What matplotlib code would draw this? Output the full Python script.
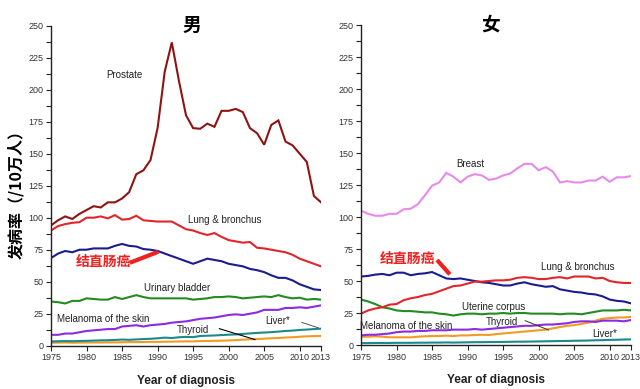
import matplotlib
matplotlib.use("Agg")
import matplotlib.pyplot as plt
from matplotlib.ticker import MultipleLocator

plt.rcParams["font.family"] = ["Liberation Sans", "Noto Sans CJK SC", "DejaVu Sans"]

years = list(range(1975, 2014))
xtick_years = [1975, 1980, 1985, 1990, 1995, 2000, 2005, 2010, 2013]

# ---- male (男) incidence per 100k ----
m_prostate = [94, 98, 101, 99, 103, 106, 109, 108, 112, 112, 115, 120, 134, 137, 145,
              170, 214, 237, 207, 180, 170, 169.5, 173.5, 171, 183.5, 183.5, 185, 182.5,
              170, 166, 157, 172.5, 176, 159.5, 156.5, 150, 143.5, 117, 112]
m_lung = [90, 93.5, 95, 96, 96.5, 100, 100, 101, 99.5, 102, 98.5, 99, 101.5, 98, 97.5,
          97, 97, 97, 94, 91, 90, 88, 86.5, 88, 85, 82.5, 81.5, 80.5, 81, 76.5, 76, 75,
          74, 73, 71, 68, 66, 64, 62]
m_colorectal = [68.5, 72, 74, 73, 75, 75, 76, 76, 76, 78, 79.5, 78, 77.5, 75.5, 75, 74,
                72, 70, 68, 66, 64, 66, 68, 67, 66, 64, 63, 62, 60, 59, 57.5, 55, 53,
                53, 51, 48, 46, 44, 43.5]
m_bladder = [34.5, 34, 33, 35, 35, 37, 36.5, 36, 36, 38, 36.5, 38, 39.5, 38, 37, 37, 37,
             37, 37, 37, 36, 36.5, 37, 38, 38, 38.5, 38, 37, 37.5, 38, 38.5, 38, 39.5,
             38, 37, 37.5, 36, 36.5, 36]
m_melanoma = [8.5, 8.5, 9.5, 9.5, 10.5, 11.5, 12, 12.5, 13, 13, 15, 15.5, 16, 15, 16,
              16.5, 17, 18, 18.5, 19, 20, 21, 21.5, 22, 23, 24, 24.5, 24, 25, 26, 28, 28,
              28, 29.5, 29.5, 30, 29.5, 30.5, 31.5]
m_liver = [3.3, 3.5, 3.6, 3.5, 3.7, 3.8, 4.0, 4.2, 4.3, 4.5, 4.8, 4.6, 4.9, 5.2, 5.4,
           5.8, 6.3, 6.0, 6.6, 6.9, 6.7, 7.6, 7.8, 8.0, 8.3, 8.6, 8.8, 9.2, 9.6, 10.0,
           10.3, 10.6, 11.0, 11.5, 11.8, 12.3, 12.6, 13.0, 13.3]
m_thyroid = [2.3, 2.4, 2.5, 2.3, 2.4, 2.5, 2.5, 2.5, 2.6, 2.6, 2.7, 2.8, 2.8, 2.9, 3.0,
             3.0, 3.1, 3.2, 3.3, 3.4, 3.4, 3.6, 3.7, 3.8, 3.9, 4.1, 4.4, 4.7, 5.0, 5.2,
             5.5, 5.8, 6.0, 6.4, 6.6, 7.0, 7.3, 7.5, 7.6]

# ---- female (女) incidence per 100k ----
f_breast = [105, 102.5, 101, 101, 102.5, 102.5, 106, 106.5, 110, 117, 124.5, 127, 134.5,
            131.5, 127, 131.5, 133.5, 132.5, 129, 130, 132.5, 134, 138, 141.5, 141.5,
            136.5, 139, 135.5, 127, 128, 127, 127, 128.5, 128.5, 131.5, 127.5, 131, 131,
            132]
f_lung = [24.5, 27, 28.5, 29.5, 31.5, 32, 35, 36.5, 37.5, 39, 40, 42, 44, 46, 46.5, 48,
          49.5, 49.5, 50, 50.5, 50.5, 51, 52.5, 53, 52.5, 51.5, 51.5, 52.5, 53, 52, 53.5,
          53.5, 53.5, 52, 52.5, 50, 49, 48.5, 48.5]
f_colorectal = [53.5, 54, 55, 55.5, 54.5, 56.5, 56.5, 54.5, 55.5, 56, 57, 54.5, 52, 51.5,
                52, 51, 50, 49, 48.5, 47.5, 46.5, 46.5, 48, 49, 47.5, 46.5, 45.5, 46,
                43.5, 42.5, 41.5, 41, 40, 39.5, 38, 35.5, 34.5, 34, 32.5]
f_uterine = [35.5, 34, 32, 29.5, 28.5, 27, 26.5, 26.5, 26, 25.5, 25.5, 24.5, 24, 23, 24,
             24.5, 24.5, 24, 24.5, 24.5, 25, 24.5, 25, 25, 24.5, 24.5, 24.5, 24.5, 24,
             24.5, 24.5, 24, 25, 26, 27, 27, 27, 27.5, 27]
f_melanoma = [7.5, 8, 8, 8.5, 9, 10, 10.5, 10.5, 11, 11, 11.5, 11.5, 11.5, 12, 12, 12,
              12.5, 12, 12.5, 13, 13.5, 14, 14.5, 15, 15, 15.5, 16, 16, 16.5, 17, 18,
              18.5, 18.5, 18, 19, 19, 19, 18.5, 19.5]
f_thyroid = [6.5, 6.5, 6.8, 6.5, 6, 6, 6, 6, 6.5, 6.8, 7, 7, 7.3, 7, 7.5, 7.5, 7.8, 8,
             7.8, 8.5, 9, 9.5, 10, 10.5, 11, 11.5, 12, 13, 14, 15, 15.5, 16.5, 17.5, 19,
             20.5, 21, 21.5, 21.5, 22]
f_liver = [1.5, 1.5, 1.6, 1.6, 1.6, 1.7, 1.7, 1.7, 1.8, 1.8, 1.9, 1.9, 2.0, 1.9, 2.0,
           2.1, 2.2, 2.2, 2.3, 2.3, 2.4, 2.5, 2.6, 2.6, 2.7, 2.8, 2.9, 3.0, 3.1, 3.2,
           3.3, 3.4, 3.5, 3.7, 3.8, 4.0, 4.1, 4.3, 4.4]

DKRED = "#8E1414"
RED = "#E2252B"
NAVY = "#1B1C8E"
GREEN = "#228B22"
PURPLE = "#8B2BE2"
TEAL = "#1B8A8C"
ORANGE = "#F39A22"
PINK = "#E88AEC"
AXC = "#222222"
LW = 1.5


def _style(ax):
    for s in ("top", "right"):
        ax.spines[s].set_visible(False)
    for s in ("left", "bottom"):
        ax.spines[s].set_color(AXC)
        ax.spines[s].set_linewidth(1.0)
    ax.set_xlim(1975, 2013)
    ax.set_ylim(0, 250)
    ax.set_xticks(xtick_years)
    ax.set_xticklabels([str(y) for y in xtick_years])
    ax.yaxis.set_major_locator(MultipleLocator(25))
    ax.yaxis.set_minor_locator(MultipleLocator(12.5))
    ax.tick_params(axis="both", which="both", colors=AXC, labelsize=6.5,
                   direction="out", length=3.5, width=0.8, pad=2)
    ax.tick_params(axis="x", labelcolor="#333333")
    ax.tick_params(axis="y", labelcolor="#333333")
    ax.set_xlabel("Year of diagnosis", fontsize=8.5, fontweight="bold",
                  color="#222222", labelpad=9)


fig = plt.figure(figsize=(6.4, 3.89), dpi=100, facecolor="white")
axm = fig.add_axes([0.0797, 0.1113, 0.4219, 0.8226])
axf = fig.add_axes([0.5641, 0.1131, 0.4219, 0.8226])

# ---- male panel ----
ax = axm
for vals, col in [(m_thyroid, ORANGE), (m_liver, TEAL), (m_melanoma, PURPLE),
                  (m_bladder, GREEN), (m_colorectal, NAVY), (m_lung, RED),
                  (m_prostate, DKRED)]:
    ax.plot(years, vals, color=col, lw=LW, solid_joinstyle="miter")
_style(ax)
ax.text(0.522, 1.0, "男", fontsize=13.5, fontweight="bold", family="Noto Sans CJK SC",
        ha="center", va="center", transform=ax.transAxes)
tk = dict(fontsize=7, color="#222222", ha="center", va="center")
ax.text(1985.3, 211.5, "Prostate", **tk)
ax.text(1999.5, 98.2, "Lung & bronchus", **tk)
ax.text(1992.7, 45.3, "Urinary bladder", **tk)
ax.text(1982.4, 20.9, "Melanoma of the skin", **tk)
ax.text(1995.0, 12.3, "Thyroid", **tk)
ax.text(2006.9, 19.5, "Liver*", **tk)
ax.plot([1998.7, 2003.7], [13.3, 4.8], color="black", lw=0.8)
ax.plot([2010.3, 2012.6], [18.2, 14.0], color="#555555", lw=0.7)
ax.text(1982.4, 65.6, "结直肠癌", fontsize=10, fontweight="bold", color="#F0201F",
        family="Noto Sans CJK SC", ha="center", va="center")
ax.plot([1986.1, 1990.1], [64.8, 73.4], color="#F0201F", lw=3, solid_capstyle="butt")

# ---- female panel ----
ax = axf
for vals, col in [(f_liver, TEAL), (f_thyroid, ORANGE), (f_melanoma, PURPLE),
                  (f_uterine, GREEN), (f_colorectal, NAVY), (f_lung, RED),
                  (f_breast, PINK)]:
    ax.plot(years, vals, color=col, lw=LW, solid_joinstyle="miter")
_style(ax)
ax.text(0.48, 1.0, "女", fontsize=13.5, fontweight="bold", family="Noto Sans CJK SC",
        ha="center", va="center", transform=ax.transAxes)
ax.text(1990.4, 141.2, "Breast", **tk)
ax.text(2005.5, 61.2, "Lung & bronchus", **tk)
ax.text(1993.7, 29.9, "Uterine corpus", **tk)
ax.text(1981.4, 15.1, "Melanoma of the skin", **tk)
ax.text(1994.8, 18.0, "Thyroid", **tk)
ax.text(2009.3, 8.6, "Liver*", **tk)
ax.plot([1998.1, 2001.4], [19.0, 11.7], color="#333333", lw=0.7)
ax.text(1981.6, 67.2, "结直肠癌", fontsize=10, fontweight="bold", color="#F0201F",
        family="Noto Sans CJK SC", ha="center", va="center")
ax.plot([1985.7, 1987.5], [66.4, 55.2], color="#F0201F", lw=3, solid_capstyle="butt")

fig.text(0.025, 0.51, "发病率（/10万人）", rotation=90, fontsize=11.5,
         fontweight="bold", family="Noto Sans CJK SC", ha="center", va="center")

fig.savefig("out.png", dpi=100, facecolor="white")
plt.close(fig)
